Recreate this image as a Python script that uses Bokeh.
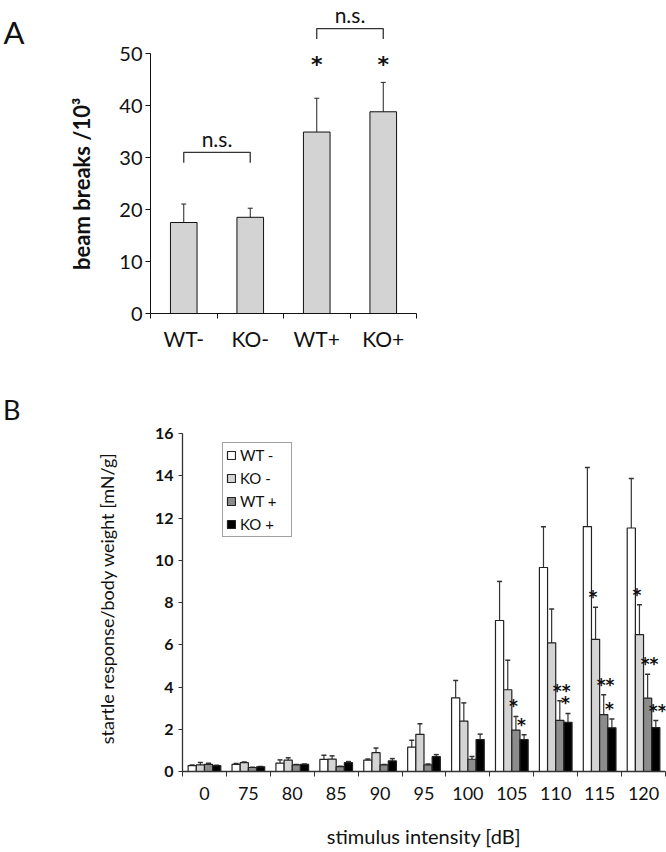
from bokeh.plotting import figure
from bokeh.models import (Range1d, FixedTicker, CustomJSTickFormatter, ColumnDataSource,
                          Whisker, TeeHead, Legend, LegendItem, LinearAxis)
from bokeh.embed import file_html
from bokeh.resources import INLINE
from bokeh.core.properties import value

FONT = "Lato"
STAR_FONT = "DejaVu Sans"
NB = "\u00a0"

# ---------------- Panel A data ----------------
a_groups = ["WT-", "KO-", "WT+", "KO+"]
a_mean = [17.5, 18.5, 34.9, 38.8]
a_err = [3.55, 1.75, 6.5, 5.65]
a_star = ["", "", "*", "*"]
a_ns_left = [0, 2]
a_ns_right = [1, 3]
a_ns_level = [31.0, 54.8]
a_star_level = 48.4
a_yticks = [0, 10, 20, 30, 40, 50]
a_tag_y = 54.2

# ---------------- Panel B data ----------------
b_intensity = ["0", "75", "80", "85", "90", "95", "100", "105", "110", "115", "120"]
b_series = ["WT -", "KO -", "WT +", "KO +"]
b_colors = ["#ffffff", "#d4d4d4", "#8c8c8c", "#000000"]
wt_minus = [0.28, 0.34, 0.40, 0.57, 0.54, 1.15, 3.49, 7.15, 9.66, 11.60, 11.53]
wt_minus_err = [0.03, 0.04, 0.15, 0.20, 0.05, 0.33, 0.82, 1.85, 1.93, 2.80, 2.35]
ko_minus = [0.31, 0.42, 0.54, 0.59, 0.89, 1.76, 2.39, 3.87, 6.09, 6.26, 6.48]
ko_minus_err = [0.12, 0.03, 0.11, 0.15, 0.22, 0.50, 0.86, 1.40, 1.60, 1.52, 1.42]
wt_plus = [0.34, 0.19, 0.31, 0.23, 0.31, 0.31, 0.58, 1.96, 2.42, 2.69, 3.47]
wt_plus_err = [0.05, 0.01, 0.02, 0.02, 0.02, 0.04, 0.13, 0.65, 0.93, 0.95, 1.14]
ko_plus = [0.28, 0.22, 0.34, 0.42, 0.50, 0.70, 1.51, 1.51, 2.33, 2.07, 2.08]
ko_plus_err = [0.02, 0.02, 0.02, 0.05, 0.11, 0.10, 0.26, 0.23, 0.42, 0.42, 0.33]
b_means = [wt_minus, ko_minus, wt_plus, ko_plus]
b_errs = [wt_minus_err, ko_minus_err, wt_plus_err, ko_plus_err]
b_star_group = ["105", "105", "110", "110", "115", "115", "115", "120", "120", "120"]
b_star_series = [2, 3, 2, 3, 1, 2, 3, 1, 2, 3]
b_star_text = ["*", "*", "**", "*", "*", "**", "*", "*", "**", "**"]
b_yticks = [0, 2, 4, 6, 8, 10, 12, 14, 16]
b_tag_y = 17.13


def panel_tag(text, y, size, standoff):
    ax = LinearAxis(ticker=FixedTicker(ticks=[y]),
                    formatter=CustomJSTickFormatter(args=dict(t=text), code="return t;"))
    ax.axis_line_color = None
    ax.major_tick_line_color = None
    ax.minor_tick_line_color = None
    ax.major_label_text_font = FONT
    ax.major_label_text_font_size = size
    ax.major_label_text_color = "#111111"
    ax.major_label_standoff = standoff
    return ax


# ================= Panel A =================
pa = figure(width=666, height=372, x_range=Range1d(0, 4), y_range=Range1d(0, 60.2),
            output_backend="svg", toolbar_location=None,
            min_border_left=137, min_border_right=250, min_border_top=0, min_border_bottom=59)
pa.outline_line_color = None
pa.grid.visible = False

a_x = [i + 0.5 for i in range(len(a_groups))]
pa.vbar(x=a_x, top=a_mean, bottom=0, width=0.4, fill_color="#d3d3d3",
        line_color="#111111", line_width=1)
src_a = ColumnDataSource(dict(x=a_x, upper=[m + e for m, e in zip(a_mean, a_err)],
                              lower=[m - e for m, e in zip(a_mean, a_err)]))
pa.add_layout(Whisker(source=src_a, base="x", upper="upper", lower="lower",
                      line_color="#222222", line_width=1,
                      upper_head=TeeHead(size=5, line_color="#222222", line_width=1),
                      lower_head=TeeHead(size=5, line_color="#222222", line_width=1)))

br_xs, br_ys, ns_x, ns_y = [], [], [], []
for l, r, lvl in zip(a_ns_left, a_ns_right, a_ns_level):
    x0, x1 = a_x[l], a_x[r]
    br_xs.append([x0, x0, x1, x1])
    br_ys.append([lvl - 2, lvl, lvl, lvl - 2])
    ns_x.append((x0 + x1) / 2)
    ns_y.append(lvl + 2.7)
pa.multi_line(xs=br_xs, ys=br_ys, line_color="#333333", line_width=1.3)
pa.text(x=ns_x, y=ns_y, text=["n.s."] * len(ns_x), text_font=value(FONT),
        text_font_size="21px", text_align="center", text_baseline="alphabetic",
        text_color="#111111")
sx = [a_x[i] for i, s in enumerate(a_star) if s]
st = [s for s in a_star if s]
pa.text(x=sx, y=[a_star_level] * len(sx), text=st, text_font=value(STAR_FONT),
        text_font_size="22px", text_font_style="bold", text_align="center",
        text_baseline="middle", y_offset=3, text_color="#111111")

pa.xaxis.ticker = FixedTicker(ticks=a_x, minor_ticks=list(range(len(a_groups) + 1)))
pa.xaxis.formatter = CustomJSTickFormatter(args=dict(labels=a_groups),
                                           code="return labels[Math.floor(tick)];")
pa.xaxis.major_tick_out = 0
pa.xaxis.major_tick_in = 0
pa.xaxis.minor_tick_out = 5
pa.xaxis.minor_tick_in = 0
pa.xaxis.major_label_standoff = 7
pa.xaxis.major_label_text_font = FONT
pa.xaxis.major_label_text_font_size = "21px"
pa.xaxis.major_label_text_color = "#111111"
pa.xaxis.axis_line_color = "#111111"
pa.xaxis.minor_tick_line_color = "#111111"

pa.yaxis.ticker = FixedTicker(ticks=a_yticks)
pa.yaxis.bounds = (0, 50)
pa.yaxis.major_tick_out = 5
pa.yaxis.major_tick_in = 0
pa.yaxis.major_label_standoff = 3
pa.yaxis.major_label_text_font = FONT
pa.yaxis.major_label_text_font_size = "20px"
pa.yaxis.major_label_text_color = "#111111"
pa.yaxis.axis_line_color = "#111111"
pa.yaxis.major_tick_line_color = "#111111"
pa.yaxis.axis_label = "beam breaks /10³" + NB * 10
pa.yaxis.axis_label_text_font = FONT
pa.yaxis.axis_label_text_font_size = "22px"
pa.yaxis.axis_label_text_font_style = "bold"
pa.yaxis.axis_label_text_color = "#111111"
pa.yaxis.axis_label_standoff = 21

pa.add_layout(panel_tag("A", a_tag_y, "31px", 35), "left")

# ================= Panel B =================
pb = figure(width=666, height=478, x_range=Range1d(0, len(b_intensity)),
            y_range=Range1d(0, 17.71), output_backend="svg", toolbar_location=None,
            min_border_left=172, min_border_right=1, min_border_top=25, min_border_bottom=73)
pb.outline_line_color = None
pb.grid.visible = False

bw = 0.186
items = []
for j, (name, col, means, errs) in enumerate(zip(b_series, b_colors, b_means, b_errs)):
    xs = [i + 0.5 + (j - 1.5) * bw for i in range(len(b_intensity))]
    r = pb.vbar(x=xs, top=means, bottom=0, width=bw, fill_color=col,
                line_color="#222222", line_width=1.2)
    items.append(LegendItem(label=name, renderers=[r]))
    src = ColumnDataSource(dict(x=xs, upper=[m + e for m, e in zip(means, errs)],
                                lower=[m - e for m, e in zip(means, errs)]))
    pb.add_layout(Whisker(source=src, base="x", upper="upper", lower="lower",
                          line_color="#333333", line_width=1.2,
                          upper_head=TeeHead(size=5, line_color="#333333", line_width=1.5),
                          lower_head=TeeHead(size=5, line_color="#333333", line_width=1.5)))

star_x, star_y = [], []
for g, s in zip(b_star_group, b_star_series):
    gi = b_intensity.index(g)
    star_x.append(gi + 0.5 + (s - 1.5) * bw)
    star_y.append(b_means[s][gi] + b_errs[s][gi])
pb.text(x=star_x, y=star_y, text=b_star_text, text_font=value(STAR_FONT),
        text_font_size="17px", text_font_style="bold", text_align="left",
        text_baseline="middle", x_offset=-7, y_offset=-10, text_color="#111111")

legend = Legend(items=items, location=(40, 234), orientation="vertical")
legend.border_line_color = "#444444"
legend.border_line_width = 1.2
legend.glyph_width = 10
legend.glyph_height = 10
legend.label_height = 16
legend.label_width = 48
legend.spacing = 5
legend.padding = 3
legend.margin = 0
legend.label_standoff = 4
legend.label_text_font = FONT
legend.label_text_font_size = "15px"
legend.label_text_color = "#111111"
pb.add_layout(legend)

pb.xaxis.ticker = FixedTicker(ticks=[i + 0.5 for i in range(len(b_intensity))],
                              minor_ticks=list(range(len(b_intensity) + 1)))
pb.xaxis.formatter = CustomJSTickFormatter(args=dict(labels=b_intensity),
                                           code="return labels[Math.floor(tick)];")
pb.xaxis.major_tick_out = 0
pb.xaxis.major_tick_in = 0
pb.xaxis.minor_tick_out = 5
pb.xaxis.minor_tick_in = 0
pb.xaxis.major_label_standoff = 10
pb.xaxis.major_label_text_font = FONT
pb.xaxis.major_label_text_font_size = "18px"
pb.xaxis.major_label_text_color = "#111111"
pb.xaxis.axis_line_color = "#333333"
pb.xaxis.axis_line_width = 1.3
pb.xaxis.minor_tick_line_color = "#333333"
pb.xaxis.axis_label = "stimulus intensity [dB]"
pb.xaxis.axis_label_text_font = FONT
pb.xaxis.axis_label_text_font_size = "20px"
pb.xaxis.axis_label_text_font_style = "normal"
pb.xaxis.axis_label_text_color = "#111111"
pb.xaxis.axis_label_standoff = 21

pb.yaxis.ticker = FixedTicker(ticks=b_yticks)
pb.yaxis.bounds = (0, 16)
pb.yaxis.major_tick_out = 4
pb.yaxis.major_tick_in = 0
pb.yaxis.major_label_standoff = 5
pb.yaxis.major_label_text_font = FONT
pb.yaxis.major_label_text_font_size = "16px"
pb.yaxis.major_label_text_font_style = "bold"
pb.yaxis.major_label_text_color = "#111111"
pb.yaxis.axis_line_color = "#333333"
pb.yaxis.axis_line_width = 1.3
pb.yaxis.major_tick_line_color = "#333333"
pb.yaxis.axis_label = "startle response/body weight [mN/g]" + NB * 6
pb.yaxis.axis_label_text_font = FONT
pb.yaxis.axis_label_text_font_size = "18px"
pb.yaxis.axis_label_text_font_style = "normal"
pb.yaxis.axis_label_text_color = "#111111"
pb.yaxis.axis_label_standoff = 34

pb.add_layout(panel_tag("B", b_tag_y, "27px", 66), "left")

open("out.html", "w").write(file_html([pa, pb], INLINE))
